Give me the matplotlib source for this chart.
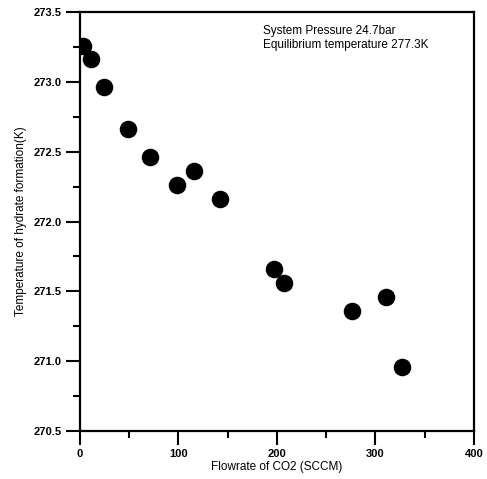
import matplotlib.pyplot as plt
from matplotlib.ticker import MultipleLocator

plt.rcParams['font.family'] = ['Liberation Sans', 'DejaVu Sans']

flowrate = [3, 11, 24, 49, 71, 99, 116, 142, 197, 207, 276, 311, 327]
temperature = [273.26, 273.16, 272.96, 272.66, 272.46, 272.26, 272.36,
               272.16, 271.66, 271.56, 271.36, 271.46, 270.96]

fig = plt.figure(figsize=(4.87, 4.79), dpi=100)
ax = fig.add_axes([0.164, 0.100, 0.809, 0.875])

ax.scatter(flowrate, temperature, s=135, color='black', zorder=3)

ax.set_xlim(0, 400)
ax.set_ylim(270.5, 273.5)
ax.xaxis.set_major_locator(MultipleLocator(100))
ax.xaxis.set_minor_locator(MultipleLocator(50))
ax.yaxis.set_major_locator(MultipleLocator(0.5))
ax.yaxis.set_minor_locator(MultipleLocator(0.25))
ax.yaxis.set_major_formatter(plt.FormatStrFormatter('%.1f'))

for s in ax.spines.values():
    s.set_linewidth(1.6)
ax.tick_params(which='major', direction='out', length=10, width=1.5,
               labelsize=8, pad=3)
ax.tick_params(which='minor', direction='out', length=5, width=1.5)
for lab in ax.get_xticklabels() + ax.get_yticklabels():
    lab.set_fontweight('bold')

ax.set_xlabel('Flowrate of CO2 (SCCM)', fontsize=8.5, labelpad=1)
ax.set_ylabel('Temperature of hydrate formation(K)', fontsize=8.5, labelpad=5)

ax.text(186, 273.41, 'System Pressure 24.7bar\nEquilibrium temperature 277.3K',
        fontsize=8.5, va='top', ha='left', linespacing=1.3)

fig.savefig('out.png', dpi=100)
